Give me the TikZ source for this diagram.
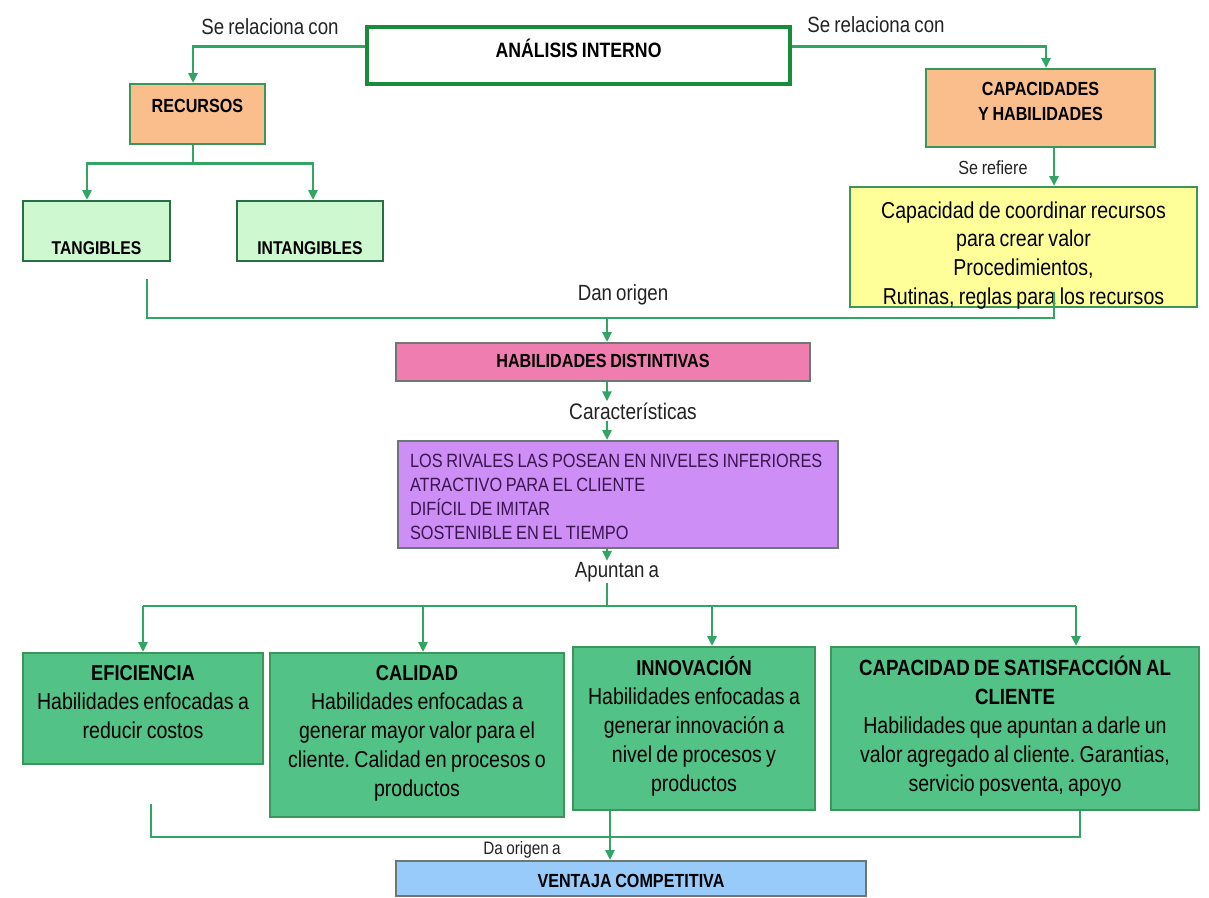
\documentclass[tikz,border=0pt]{standalone}
\usepackage{fontspec}
\setmainfont{Liberation Sans}[FakeStretch=0.85,WordSpace=0.8]
\setsansfont{Liberation Sans}[FakeStretch=0.85,WordSpace=0.8]
\frenchspacing
\usetikzlibrary{arrows.meta}
\definecolor{linkgreen}{RGB}{50,165,100}
\definecolor{titlegreen}{RGB}{25,140,60}
\definecolor{boxgreen}{RGB}{60,150,90}
\definecolor{darkline}{RGB}{40,110,70}
\definecolor{resorange}{RGB}{250,190,140}
\definecolor{tangreen}{RGB}{206,248,208}
\definecolor{descyellow}{RGB}{255,255,153}
\definecolor{distpink}{RGB}{240,125,175}
\definecolor{rasgpurple}{RGB}{205,142,245}
\definecolor{purpletext}{RGB}{60,20,80}
\definecolor{efigreen}{RGB}{82,194,134}
\definecolor{ventblue}{RGB}{152,202,250}
\definecolor{graybord}{RGB}{110,120,115}
\definecolor{labelgray}{RGB}{35,35,35}
\newcommand\fsz[2]{\fontsize{#1}{#2}\selectfont}

\begin{document}
\begin{tikzpicture}[x=1pt,y=-1pt,
  font=\sffamily,
  box/.style={draw=boxgreen,line width=1.8pt,inner sep=0pt,align=flush center,anchor=north},
  resbox/.style={box,fill=resorange,font=\sffamily\bfseries\fsz{19}{25}},
  tanbox/.style={box,draw=darkline,fill=tangreen,font=\sffamily\bfseries\fsz{18.5}{22}},
  descbox/.style={box,fill=descyellow,font=\sffamily\fsz{23}{28.7}},
  distbox/.style={box,draw=graybord,fill=distpink,font=\sffamily\bfseries\fsz{19}{22}},
  rasgbox/.style={box,draw=graybord,fill=rasgpurple,text=purpletext,align=flush left,
    inner xsep=12pt,font=\sffamily\fsz{19.2}{24}},
  apbox/.style={box,fill=efigreen,font=\sffamily\fsz{23}{29}},
  ventbox/.style={box,draw=graybord,fill=ventblue,font=\sffamily\bfseries\fsz{19}{22}},
  tag/.style={inner sep=1pt,text=labelgray,font=\sffamily\fsz{22}{24}},
  ln/.style={draw=linkgreen,line width=2.8pt},
  arr/.style={ln,-{Triangle[length=10pt,width=9pt]}}]

  \fill[white] (0,0) rectangle (1209,897);
  \useasboundingbox (0,0) rectangle (1209,897);

  % nivel superior
  \node[box,draw=titlegreen,line width=3.5pt,fill=white,font=\sffamily\bfseries\fsz{20.8}{24},
    minimum width=423pt,text height=30.4pt,text depth=26.6pt] (analisis) at (578.5,25)
    {ANÁLISIS INTERNO};
  \node[tag] (relIzq) at (270,27) {Se relaciona con};
  \node[tag] (relDer) at (876,25) {Se relaciona con};

  \node[resbox,minimum width=135pt,text height=28.8pt,text depth=31.2pt] (recursos)
    at (197.5,83) {RECURSOS};
  \node[resbox,text width=229pt,text height=26.8pt,text depth=51.2pt] (capacidades)
    at (1040.5,68) {CAPACIDADES\\Y HABILIDADES};

  \draw[arr] ([yshift=8.5pt]analisis.west) -| ([xshift=-4.5pt]recursos.north);
  \draw[arr] ([yshift=8.5pt]analisis.east) -| ([xshift=5.5pt]capacidades.north);

  % recursos
  \node[tanbox,minimum width=147pt,text height=53.6pt,text depth=6.4pt] (tangibles)
    at (96.5,200) {TANGIBLES};
  \node[tanbox,minimum width=146pt,text height=53.6pt,text depth=6.4pt] (intangibles)
    at (310,200) {INTANGIBLES};
  \coordinate (recOut) at ([xshift=-4.5pt]recursos.south);
  \draw[arr] (recOut) -- ++(0,19) -| ([xshift=-9.5pt]tangibles.north);
  \draw[arr] (recOut) -- ++(0,19) -| ([xshift=3pt]intangibles.north);

  % capacidades
  \node[tag,font=\sffamily\fsz{19}{21}] (refiere) at (993,168) {Se refiere};
  \node[descbox,text width=347pt,text height=31.2pt,text depth=88.8pt] (capdesc)
    at (1023.5,186)
    {Capacidad de coordinar recursos\\para crear valor\\Procedimientos,\\Rutinas, reglas para los recursos};
  \coordinate (capOut) at ([xshift=13.5pt]capacidades.south);
  \draw[arr] (capOut) -- (capOut |- capdesc.north);

  % habilidades distintivas
  \node[tag] (danOrigen) at (623,295) {Dan origen};
  \node[distbox,minimum width=414pt,text height=24.8pt,text depth=13.2pt] (habilidades)
    at (603,342) {HABILIDADES DISTINTIVAS};
  \coordinate (tanEnd) at ([xshift=50.5pt,yshift=-17pt]tangibles.south);
  \coordinate (capEnd) at ([xshift=30.5pt,yshift=16pt]capdesc.south);
  \coordinate (busA) at (607,318);
  \draw[ln] (tanEnd) |- (busA) -| (capEnd);
  \draw[arr] (busA) -- (busA |- habilidades.north);

  \node[tag,font=\sffamily\fsz{22.5}{24}] (caract) at (633,411) {Características};
  \node[rasgbox,text width=416pt,text height=26.6pt,text depth=80.4pt] (rasgos)
    at (618,440)
    {LOS RIVALES LAS POSEAN EN NIVELES INFERIORES\\ATRACTIVO PARA EL CLIENTE\\DIFÍCIL DE IMITAR\\SOSTENIBLE EN EL TIEMPO};
  \draw[arr] (busA |- habilidades.south) -- (busA |- caract.north);
  \draw[arr] (busA |- caract.south) -- (busA |- rasgos.north);

  \node[tag] (apuntan) at (617,572) {Apuntan a};
  \draw[arr] (busA |- rasgos.south) -- (busA |- apuntan.north);

  % fuentes de ventaja
  \node[apbox,text width=240pt,text height=27.7pt,text depth=83.3pt] (eficiencia)
    at (143,652) {{\bfseries\fsz{21.5}{29}EFICIENCIA}\\Habilidades enfocadas a\\reducir costos};
  \node[apbox,text width=294pt,text height=27.7pt,text depth=136.3pt] (calidad)
    at (417,652)
    {{\bfseries\fsz{21.5}{29}CALIDAD}\\Habilidades enfocadas a\\generar mayor valor para el\\cliente. Calidad en procesos o\\productos};
  \node[apbox,text width=242pt,text height=28.7pt,text depth=134.3pt] (innovacion)
    at (694,646)
    {{\bfseries\fsz{21.5}{29}INNOVACIÓN}\\Habilidades enfocadas a\\generar innovación a\\nivel de procesos y\\productos};
  \node[apbox,text width=368pt,text height=28.7pt,text depth=134.3pt] (satisfaccion)
    at (1015,646)
    {{\bfseries\fsz{22}{29}CAPACIDAD DE SATISFACCIÓN AL}\\{\bfseries\fsz{22}{29}CLIENTE}\\Habilidades que apuntan a darle un\\valor agregado al cliente. Garantias,\\servicio posventa, apoyo};

  \coordinate (b1) at (143,606);
  \coordinate (b2) at (423,606);
  \coordinate (b3) at (712,606);
  \coordinate (b4) at (1076,606);
  \draw[ln] (busA |- apuntan.south) -- (busA |- b1);
  \draw[ln] (b1) -- (b4);
  \foreach \b/\n in {b1/eficiencia,b2/calidad,b3/innovacion,b4/satisfaccion}
    \draw[arr] (\b) -- (\b |- \n.north);

  % ventaja competitiva
  \node[tag,font=\sffamily\fsz{18}{20}] (daOrigen) at (522,850) {Da origen a};
  \node[ventbox,minimum width=470pt,text height=26.8pt,text depth=8.2pt] (ventaja)
    at (631,860) {VENTAJA COMPETITIVA};
  \coordinate (efiEnd) at ([xshift=8pt,yshift=-39pt]eficiencia.south);
  \coordinate (satEnd) at ([xshift=65pt]satisfaccion.south);
  \coordinate (busC) at (satEnd |- 0,837);
  \draw[ln] (efiEnd) |- (busC) -- (satEnd);
  \coordinate (vin) at ([xshift=-21pt]ventaja.north);
  \draw[arr] (vin |- innovacion.south) -- (vin);

\end{tikzpicture}
\end{document}
